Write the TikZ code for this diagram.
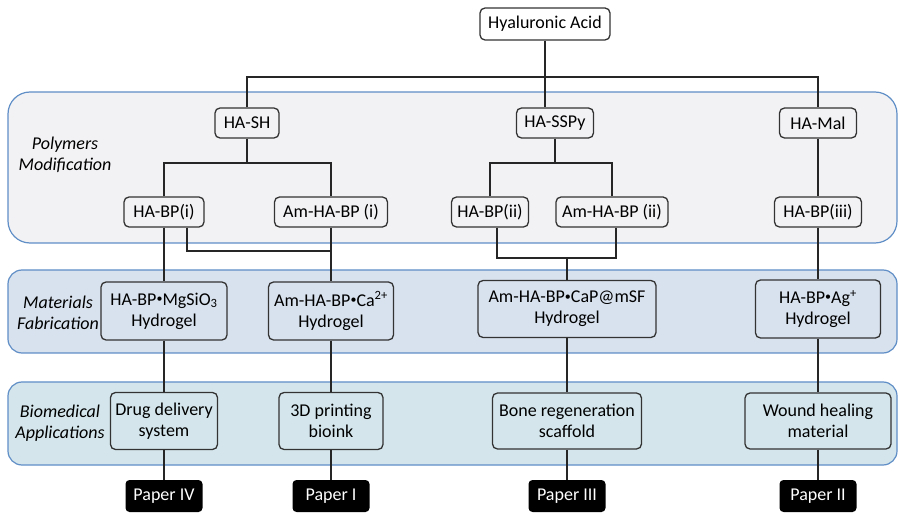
\documentclass[tikz,border=0pt]{standalone}
\usepackage{fontspec}
\setmainfont{Carlito}
\definecolor{polyfill}{RGB}{242,242,245}
\definecolor{matfill}{RGB}{216,226,238}
\definecolor{biofill}{RGB}{212,230,236}
\definecolor{panelline}{RGB}{96,142,198}
\newcommand{\hbul}{\raisebox{0.3ex}{\fontsize{12}{12}\selectfont•}}
\begin{document}
\begin{tikzpicture}[
    x = 1pt,
    y = -1pt,
    panel/.style = {draw=panelline, line width=1.2pt},
    box/.style = {draw=black!80, rounded corners=5pt, line width=1.3pt,
              align=center, inner sep=1pt, font=\fontsize{18}{21}\selectfont},
    paper/.style = {fill=black, text=white, rounded corners=4pt, inner sep=1pt,
              minimum width=77, minimum height=32, font=\fontsize{18}{20}\selectfont},
    tag/.style = {align=center, font=\fontsize{18}{21}\selectfont\itshape},
    link/.style = {black!85, line width=1.3pt},
    ]

\useasboundingbox (0,0) rectangle (898,513);

% panels
\draw [panel, fill=polyfill, rounded corners=22pt] (8,92) rectangle (897,243);
\draw [panel, fill=matfill, rounded corners=14pt] (8,270) rectangle (897,353);
\draw [panel, fill=biofill, rounded corners=14pt] (8,382) rectangle (897,465);

\node[tag] (tag_poly) at (65,155) {Polymers\\Modification};
\node[tag] (tag_mat) at (58,313) {Materials\\Fabrication};
\node[tag] (tag_bio) at (60,423) {Biomedical\\Applications};

% polymers
\node[box, fill=white, minimum width=130, minimum height=32] (ha) at (545,24) {Hyaluronic Acid};
\node[box, minimum width=64, minimum height=30] (ha_sh) at (247,123) {HA-SH};
\node[box, minimum width=77, minimum height=30] (ha_sspy) at (555,123) {HA-SSPy};
\node[box, minimum width=77, minimum height=30] (ha_mal) at (818,123) {HA-Mal};
\node[box, minimum width=80, minimum height=30] (bp_i) at (164,212) {HA-BP(i)};
\node[box, minimum width=113, minimum height=30] (ambp_i) at (331,212) {Am-HA-BP (i)};
\node[box, minimum width=77, minimum height=30] (bp_ii) at (490,212) {HA-BP(ii)};
\node[box, minimum width=112, minimum height=30] (ambp_ii) at (612,212) {Am-HA-BP (ii)};
\node[box, minimum width=87, minimum height=30] (bp_iii) at (818,212) {HA-BP(iii)};

% materials
\node[box, minimum width=126, minimum height=58] (gel_mg) at (164,311) {HA-BP\hbul MgSiO\textsubscript{3}\\Hydrogel};
\node[box, minimum width=125, minimum height=58] (gel_ca) at (331,311) {Am-HA-BP\hbul Ca\textsuperscript{2+}\\Hydrogel};
\node[box, minimum width=178, minimum height=57] (gel_cap) at (567,309) {Am-HA-BP\hbul CaP@mSF\\Hydrogel};
\node[box, minimum width=125, minimum height=58] (gel_ag) at (818,309) {HA-BP\hbul Ag\textsuperscript{+}\\Hydrogel};

% applications
\node[box, minimum width=107, minimum height=57] (app_drug) at (164,421) {Drug delivery\\system};
\node[box, minimum width=104, minimum height=57] (app_print) at (331,421) {3D printing\\bioink};
\node[box, minimum width=149, minimum height=56] (app_bone) at (567,421) {Bone regeneration\\scaffold};
\node[box, minimum width=146, minimum height=56] (app_wound) at (818,421) {Wound healing\\material};

% papers
\node[paper] (paper_iv) at (164,496) {Paper IV};
\node[paper] (paper_i) at (331,496) {Paper I};
\node[paper] (paper_iii) at (567,496) {Paper III};
\node[paper] (paper_ii) at (818,496) {Paper II};

\coordinate (split_top) at (545,77);
\coordinate (split_sh) at (247,163);
\coordinate (split_sspy) at (555,163);
\coordinate (join_i) at (331,251);
\coordinate (join_ii) at (567,258);

\draw [link] (ha.south) -- (ha.south |- ha_sspy.north);
\draw [link] (ha_sh.north) |- (split_top) -| (ha_mal.north);
\draw [link] (ha_sh.south) -- (split_sh);
\draw [link] (bp_i.north) |- (split_sh) -| (ambp_i.north);
\draw [link] (ha_sspy.south) -- (split_sspy);
\draw [link] (bp_ii.north) |- (split_sspy) -| (ambp_ii.north);
\draw [link] (ha_mal) -- (bp_iii);

\draw [link] ([xshift=23pt]bp_i.south) |- (join_i);
\draw [link] ([xshift=7pt]bp_ii.south) |- (join_ii) -| ([xshift=4pt]ambp_ii.south);
\draw [link] (join_ii) -- (gel_cap.north);

\draw [link] (bp_i) -- (gel_mg) -- (app_drug) -- (paper_iv);
\draw [link] (ambp_i) -- (gel_ca) -- (app_print) -- (paper_i);
\draw [link] (gel_cap) -- (app_bone) -- (paper_iii);
\draw [link] (bp_iii) -- (gel_ag) -- (app_wound) -- (paper_ii);

\end{tikzpicture}
\end{document}
